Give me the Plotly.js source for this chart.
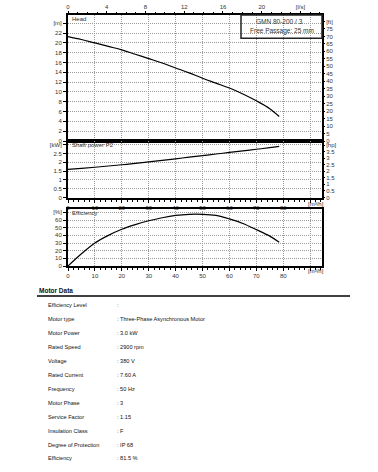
<!DOCTYPE html>
<html><head><meta charset="utf-8">
<script src="https://cdn.plot.ly/plotly-3.0.1.min.js"></script>
<style>html,body{margin:0;padding:0;background:#fff}#c{width:378px;height:472px}</style>
</head><body><div id="c"></div>
<script>
// Flow in m³/h
const flowQ = [0,5,10,15,20,25,30,35,40,45,50,55,60,65,70,75,78.5];
const headM = [21.3,20.7,20.0,19.3,18.6,17.7,16.8,15.9,14.9,13.9,12.8,11.8,10.8,9.6,8.2,6.6,5.0];
const powerKW = [1.6,1.66,1.72,1.79,1.86,1.94,2.02,2.11,2.2,2.29,2.38,2.47,2.56,2.65,2.74,2.83,2.9];
const effPct = [0,16,30,40,48,54,59,63,66,67.5,67.5,66,61.5,55.5,47.5,39,31];

const lsTicks = [0,4,8,12,16,20,24];
const lsLabels = ['0','4','8','12','16','20','[l/s]'];
const qTicks = [0,10,20,30,40,50,60,70,80,90];
const qLabels = ['0','10','20','30','40','50','60','70','80',''];
const mTicks = [0,2,4,6,8,10,12,14,16,18,20,22,24];
const mLabels = ['0','2','4','6','8','10','12','14','16','18','20','22','[m]'];
const ftTicks = [0,5,10,15,20,25,30,35,40,45,50,55,60,65,70,75,80];
const ftLabels = ['0','5','10','15','20','25','30','35','40','45','50','55','60','65','70','75','[ft]'];
const kwTicks = [0,0.5,1,1.5,2,2.5,3];
const kwLabels = ['0','0.5','1','1.5','2','2.5','[kW]'];
const hpTicks = [0,0.5,1,1.5,2,2.5,3,3.5,4];
const hpLabels = ['0','0.5','1','1.5','2','2.5','3','3.5','[hp]'];
const effTicks = [0,10,20,30,40,50,60,70];
const effLabels = ['0','10','20','30','40','50','60','[%]'];

const pumpLabel = 'GMN 80-200 / 3';
const passageLabel = 'Free Passage: 25 mm';
const motorKeys = ['Efficiency Level','Motor type','Motor Power','Rated Speed','Voltage','Rated Current','Frequency','Motor Phase','Service Factor','Insulation Class','Degree of Protection','Efficiency'];
const motorVals = [':',': Three-Phase Asynchronous Motor',': 3.0 kW',': 2900 rpm',': 380 V',': 7.60 A',': 50 Hz',': 3',': 1.15',': F',': IP 68',': 81.5 %'];

const W = 378, H = 472;
const px = x => x / W;
const py = y => 1 - y / H;
const FONT = 'Liberation Sans, Arial, sans-serif';
const tf = {family: FONT, size: 6, color: '#333'};
const xDom = [px(68), px(322)];
const qMax = 94.4;

const gridStyle = {showgrid: true, gridcolor: '#9a9a9a', griddash: '1px,1px', gridwidth: 1};
const frame = {showline: true, linecolor: '#000', linewidth: 2, mirror: true, zeroline: false};

const line = {color: '#000', width: 1.2, shape: 'spline'};
const ghost = {mode: 'markers', marker: {opacity: 0, size: 1}, hoverinfo: 'skip'};
const traces = [
  {x: flowQ, y: headM, xaxis: 'x', yaxis: 'y', mode: 'lines', line: line, hoverinfo: 'skip'},
  {x: flowQ, y: powerKW, xaxis: 'x3', yaxis: 'y3', mode: 'lines', line: line, hoverinfo: 'skip'},
  {x: flowQ, y: effPct, xaxis: 'x4', yaxis: 'y5', mode: 'lines', line: line, hoverinfo: 'skip'},
  Object.assign({x: [flowQ[0] / 3.6], y: [headM[0]], xaxis: 'x2', yaxis: 'y'}, ghost),
  Object.assign({x: [flowQ[0]], y: [headM[0] / 0.3048], xaxis: 'x', yaxis: 'y2'}, ghost),
  Object.assign({x: [flowQ[0]], y: [powerKW[0] / 0.7457], xaxis: 'x3', yaxis: 'y4'}, ghost)
];

const annotations = [];
function ann(text, x, y, opts) {
  annotations.push(Object.assign({text: text, x: px(x), y: py(y), xref: 'paper', yref: 'paper',
    showarrow: false, xanchor: 'left', yanchor: 'middle', font: tf}, opts || {}));
}
ann('Head', 70, 19);
ann('Shaft power P2', 70, 145);
ann('Efficiency', 70, 213);
ann('[m³/h]', 316, 204, {xanchor: 'center'});
ann('[m³/h]', 316, 271, {xanchor: 'center'});
ann(pumpLabel, 279, 21.5, {xanchor: 'center', font: {family: FONT, size: 6.5, color: '#333'}});
ann(passageLabel, 282, 31.5, {xanchor: 'center', font: {family: FONT, size: 6.5, color: '#333'}});
ann('<b>Motor Data</b>', 37, 290, {font: {family: FONT, size: 6.5, color: '#111'}});
const rowY0 = 305, rowStep = 13.95;
const rowFont = {family: FONT, size: 5.6, color: '#111'};
motorKeys.forEach((k, i) => {
  ann(k, 46, rowY0 + i * rowStep, {font: rowFont});
  ann(motorVals[i], 114.5, rowY0 + i * rowStep, {font: rowFont});
});

const shapes = [
  {type: 'rect', xref: 'paper', yref: 'paper', x0: px(241), x1: px(322), y0: py(38.3), y1: py(15), line: {color: '#222', width: 1.5}, fillcolor: 'rgba(0,0,0,0)'},
  {type: 'line', xref: 'paper', yref: 'paper', x0: px(37), x1: px(350), y0: py(296), y1: py(296), line: {color: '#000', width: 1.5}}
];

const layout = {
  width: W, height: H, margin: {l: 0, r: 0, t: 0, b: 0},
  paper_bgcolor: '#fff', plot_bgcolor: '#fff', showlegend: false,
  font: tf,
  xaxis: Object.assign({domain: xDom, anchor: 'y', range: [0, qMax], tickvals: qTicks, showticklabels: false, ticks: ''}, gridStyle, frame),
  xaxis2: {overlaying: 'x', anchor: 'y', side: 'top', range: [0, qMax / 3.6], tickvals: lsTicks, ticktext: lsLabels,
    ticks: 'outside', ticklen: 3, tickcolor: '#000', tickfont: tf, showgrid: false, zeroline: false, showline: false,
    minor: {dtick: 1, ticks: 'outside', ticklen: 2, tickcolor: '#000', showgrid: false}},
  yaxis: Object.assign({domain: [py(141), py(15)], anchor: 'x', range: [0, 25.7], tickvals: mTicks, ticktext: mLabels,
    ticks: 'outside', ticklen: 3, tickcolor: '#000', tickfont: tf}, gridStyle, frame),
  yaxis2: {overlaying: 'y', anchor: 'x', side: 'right', range: [0, 25.7 / 0.3048], tickvals: ftTicks, ticktext: ftLabels,
    ticks: 'outside', ticklen: 2, tickcolor: '#000', tickfont: tf, showgrid: false, zeroline: false, showline: false},
  xaxis3: Object.assign({domain: xDom, anchor: 'y3', range: [0, qMax], tickvals: qTicks, ticktext: qLabels,
    ticks: 'outside', ticklen: 3, tickcolor: '#000', tickfont: tf,
    minor: {dtick: 2, ticks: 'outside', ticklen: 2, tickcolor: '#000', showgrid: false}}, gridStyle, frame),
  yaxis3: Object.assign({domain: [py(197.5), py(141)], anchor: 'x3', range: [0, 3.21], tickvals: kwTicks, ticktext: kwLabels,
    ticks: 'outside', ticklen: 3, tickcolor: '#000', tickfont: tf}, gridStyle, frame),
  yaxis4: {overlaying: 'y3', anchor: 'x3', side: 'right', range: [0, 3.21 / 0.7457], tickvals: hpTicks, ticktext: hpLabels,
    ticks: 'outside', ticklen: 2, tickcolor: '#000', tickfont: tf, showgrid: false, zeroline: false, showline: false},
  xaxis4: Object.assign({domain: xDom, anchor: 'y5', range: [0, qMax], tickvals: qTicks, ticktext: qLabels,
    ticks: 'outside', ticklen: 3, tickcolor: '#000', tickfont: tf,
    minor: {dtick: 2, ticks: 'outside', ticklen: 2, tickcolor: '#000', showgrid: false}}, gridStyle, frame),
  yaxis5: Object.assign({domain: [py(266), py(209.3)], anchor: 'x4', range: [0, 74], tickvals: effTicks, ticktext: effLabels,
    ticks: 'outside', ticklen: 3, tickcolor: '#000', tickfont: tf}, gridStyle, frame),
  annotations: annotations,
  shapes: shapes
};

Plotly.newPlot('c', traces, layout, {staticPlot: true, displayModeBar: false});
</script></body></html>
